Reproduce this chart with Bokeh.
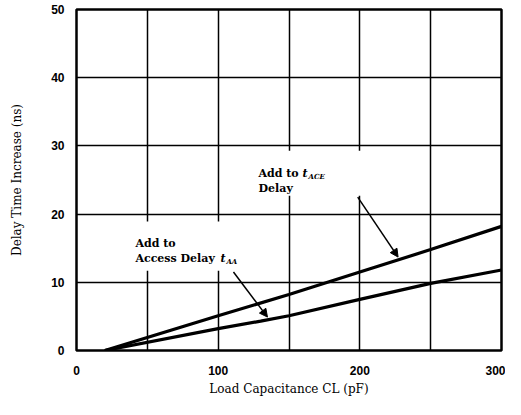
from bokeh.plotting import figure
from bokeh.models import Range1d, FixedTicker, Label, Arrow, NormalHead, BoxAnnotation
from bokeh.embed import file_html
from bokeh.resources import INLINE

# data
cap_ace = [20, 100, 150, 200, 250, 300]
delay_ace = [0, 5.1, 8.2, 11.5, 14.8, 18.2]
cap_aa = [20, 100, 130, 150, 200, 250, 300]
delay_aa = [0, 3.2, 4.3, 5.1, 7.5, 9.85, 11.8]
x_label_ticks = [0, 100, 200, 300]
x_grid_ticks = [0, 50, 100, 150, 200, 250, 300]
y_ticks = [0, 10, 20, 30, 40, 50]

SERIF = "DejaVu Serif"
SANS = "Liberation Sans"

p = figure(width=505, height=399, output_backend="svg", toolbar_location=None,
           x_range=Range1d(0, 300), y_range=Range1d(0, 50),
           min_border_left=76, min_border_right=4, min_border_top=9, min_border_bottom=49)
p.background_fill_color = "white"
p.border_fill_color = "white"
p.outline_line_color = "black"
p.outline_line_width = 2.5

p.xaxis.ticker = FixedTicker(ticks=x_label_ticks)
p.yaxis.ticker = FixedTicker(ticks=y_ticks)
p.xgrid.ticker = FixedTicker(ticks=x_grid_ticks)
p.ygrid.ticker = FixedTicker(ticks=y_ticks)
for g in (p.xgrid, p.ygrid):
    g.grid_line_color = "black"
    g.grid_line_width = 1.5
    g.grid_line_alpha = 1.0

for ax in (p.xaxis, p.yaxis):
    ax.axis_line_color = None
    ax.major_tick_line_color = None
    ax.minor_tick_line_color = None
    ax.major_label_text_font = SANS
    ax.major_label_text_font_style = "bold"
    ax.major_label_text_font_size = "12px"
    ax.major_label_text_color = "black"
    ax.axis_label_text_font = SERIF
    ax.axis_label_text_font_style = "normal"
    ax.axis_label_text_font_size = "12px"
    ax.axis_label_text_color = "black"

p.xaxis.major_label_standoff = 9
p.yaxis.major_label_standoff = 6
p.xaxis.axis_label = "Load Capacitance CL (pF)"
p.xaxis.axis_label_standoff = 4
p.yaxis.axis_label = "Delay Time Increase (ns)"
p.yaxis.axis_label_standoff = 24

p.line(cap_ace, delay_ace, line_color="black", line_width=3.2)
p.line(cap_aa, delay_aa, line_color="black", line_width=3.2)

# white masks behind annotation texts
p.add_layout(BoxAnnotation(left=123, right=207, bottom=22.7, top=29.3,
                           fill_color="white", fill_alpha=1, line_alpha=0))
p.add_layout(BoxAnnotation(left=37, right=122, bottom=11.7, top=18.9,
                           fill_color="white", fill_alpha=1, line_alpha=0))

def lab(x, y, t, size="11px", style="bold", xo=0, yo=0, baseline="top"):
    p.add_layout(Label(x=x, y=y, text=t, x_offset=xo, y_offset=yo,
                       text_font=SERIF, text_font_size=size, text_font_style=style,
                       text_color="black", text_baseline=baseline, text_align="left"))

# tACE annotation
lab(128.5, 26.9, "Add to")
lab(128.5, 26.9, "t", style="bold italic", xo=44)
lab(128.5, 26.9, "ACE", size="7px", style="bold italic", xo=50, yo=-5)
lab(128.5, 26.9, "Delay", yo=-15)

# tAA annotation
lab(41.6, 16.6, "Add to")
lab(41.6, 16.6, "Access Delay", yo=-15)
lab(41.6, 16.6, "t", style="bold italic", xo=85, yo=-15)
lab(41.6, 16.6, "AA", size="7px", style="bold italic", xo=91, yo=-20)

p.add_layout(Arrow(x_start=198.5, y_start=22.5, x_end=227, y_end=13.7,
                   line_color="black", line_width=1.5,
                   end=NormalHead(size=8, fill_color="black", line_color="black")))
p.add_layout(Arrow(x_start=110.8, y_start=11.5, x_end=134.8, y_end=4.9,
                   line_color="black", line_width=1.5,
                   end=NormalHead(size=8, fill_color="black", line_color="black")))

open("out.html", "w").write(file_html(p, INLINE))
